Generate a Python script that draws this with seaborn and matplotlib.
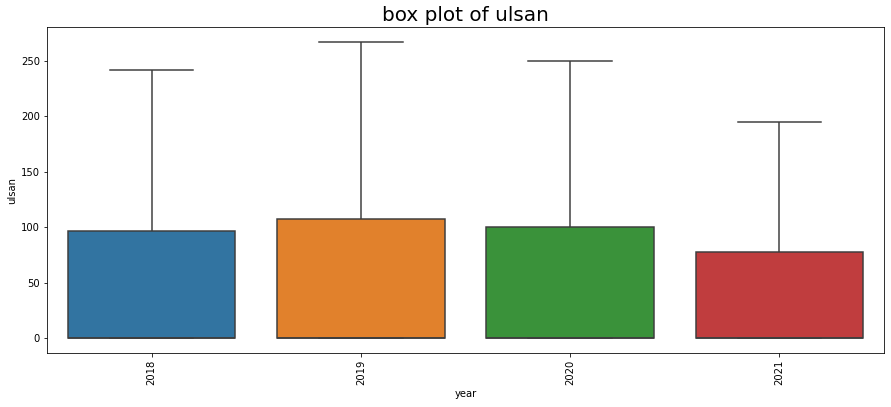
import pandas as pd
import seaborn as sns
import matplotlib.pyplot as plt

# valores de exemplo por ano (quartis: Q1 = mediana = 0)
years = ["2018", "2019", "2020", "2021"]
ulsan_2018 = [0, 0, 0, 0, 0, 97, 97, 242]
ulsan_2019 = [0, 0, 0, 0, 0, 107, 107, 267]
ulsan_2020 = [0, 0, 0, 0, 0, 100, 100, 250]
ulsan_2021 = [0, 0, 0, 0, 0, 78, 78, 195]

df = pd.DataFrame({
    "year": [years[0]] * len(ulsan_2018) + [years[1]] * len(ulsan_2019)
            + [years[2]] * len(ulsan_2020) + [years[3]] * len(ulsan_2021),
    "ulsan": ulsan_2018 + ulsan_2019 + ulsan_2020 + ulsan_2021,
})

fig = plt.figure(figsize=(891 / 72, 407 / 72), dpi=72)
ax = fig.add_axes([47 / 891, 1 - 353 / 407, (884 - 47) / 891, (353 - 27) / 407])

sns.boxplot(data=df, x="year", y="ulsan", hue="year", palette="tab10",
            order=years, legend=False, showfliers=False, linewidth=1.5, ax=ax)

ax.set_title("box plot of ulsan", fontsize=20)
ax.set_xlabel("year")
ax.set_ylabel("ulsan")
plt.xticks(rotation=90)

fig.savefig("out.png", dpi=72)
